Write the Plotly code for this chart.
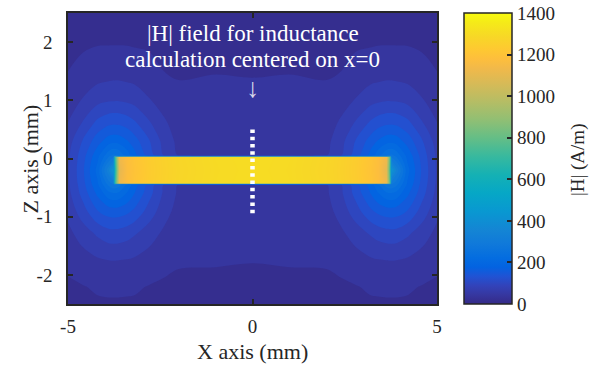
import plotly.graph_objects as go

# ---- data ----
x_mm = [-5, -4.6, -4.2, -3.9, -3.78, -3.74, -3.62, -3.4, -3.2, -2.8, -2.4, -2.0, -1.0, 0,
        1.0, 2.0, 2.4, 2.8, 3.2, 3.4, 3.62, 3.74, 3.78, 3.9, 4.2, 4.6, 5]
z_mm = [-2.5, -2.2, -1.8, -1.3, -0.9, -0.6, -0.45, -0.43, -0.2, 0.03, 0.05,
        0.3, 0.6, 1.0, 1.5, 2.0, 2.5]
H_field = [
    [21, 23, 25, 25, 25, 25, 25, 25, 25, 23, 21, 20, 20, 20, 20, 20, 21, 23, 25, 25, 25, 25, 25, 25, 25, 23, 21],
    [25, 27, 31, 33, 33, 33, 33, 32, 31, 27, 25, 22, 23, 23, 23, 22, 25, 27, 31, 32, 33, 33, 33, 33, 31, 27, 25],
    [32, 41, 48, 51, 52, 52, 51, 50, 48, 41, 33, 30, 29, 28, 29, 30, 33, 41, 48, 50, 51, 52, 52, 51, 48, 41, 32],
    [48, 68, 88, 99, 100, 100, 99, 94, 86, 68, 50, 38, 37, 36, 37, 38, 50, 68, 86, 94, 99, 100, 100, 99, 88, 68, 48],
    [64, 100, 139, 154, 156, 156, 155, 147, 135, 100, 68, 45, 42, 42, 42, 45, 68, 100, 135, 147, 155, 156, 156, 154, 139, 100, 64],
    [75, 122, 174, 214, 221, 221, 217, 194, 168, 122, 79, 51, 44, 44, 44, 51, 79, 122, 168, 194, 217, 221, 221, 214, 174, 122, 75],
    [78, 129, 191, 259, 276, 276, 266, 221, 183, 130, 82, 52, 45, 45, 45, 52, 82, 130, 183, 221, 266, 276, 276, 259, 191, 129, 78],
    [79, 130, 193, 267, 285, 640, 1130, 1180, 1205, 1240, 1262, 1280, 1298, 1305, 1298, 1280, 1262, 1240, 1205, 1180, 1130, 640, 285, 267, 193, 130, 79],
    [80, 134, 205, 331, 440, 580, 1100, 1175, 1200, 1238, 1260, 1278, 1297, 1304, 1297, 1278, 1260, 1238, 1200, 1175, 1100, 580, 440, 331, 205, 134, 80],
    [78, 129, 189, 251, 267, 640, 1130, 1180, 1205, 1240, 1262, 1280, 1298, 1305, 1298, 1280, 1262, 1240, 1205, 1180, 1130, 640, 267, 251, 189, 129, 78],
    [78, 128, 187, 244, 258, 258, 249, 214, 179, 128, 82, 52, 45, 45, 45, 52, 82, 128, 179, 214, 249, 258, 258, 244, 187, 128, 78],
    [71, 114, 156, 182, 186, 186, 184, 170, 152, 114, 74, 48, 44, 44, 44, 48, 74, 114, 152, 170, 184, 186, 186, 182, 156, 114, 71],
    [57, 87, 121, 135, 137, 137, 136, 129, 118, 88, 61, 42, 42, 42, 42, 42, 61, 88, 118, 129, 136, 137, 137, 135, 121, 87, 57],
    [43, 58, 75, 81, 82, 82, 82, 79, 74, 58, 44, 35, 36, 35, 36, 35, 44, 58, 74, 79, 82, 82, 82, 81, 75, 58, 43],
    [28, 35, 41, 43, 44, 44, 44, 42, 41, 36, 28, 25, 27, 26, 27, 25, 28, 36, 41, 42, 44, 44, 44, 43, 41, 35, 28],
    [22, 24, 26, 26, 26, 26, 26, 26, 25, 24, 22, 20, 20, 20, 20, 20, 22, 24, 25, 26, 26, 26, 26, 26, 26, 24, 22],
    [18, 19, 20, 20, 20, 20, 20, 20, 20, 19, 18, 17, 17, 17, 17, 17, 18, 19, 20, 20, 20, 20, 20, 20, 20, 19, 18],
]
probe_x = [0, 0]
probe_z = [0.5, -1.0]
x_ticks = [-5, 0, 5]
x_tick_text = ["-5", "0", "5"]
z_ticks = [-2, -1, 0, 1, 2]
z_tick_text = ["-2", "-1", "0", "1", "2"]
cbar_ticks = [0, 200, 400, 600, 800, 1000, 1200, 1400]
title_lines = ["|H| field for inductance", "calculation centered on x=0"]

# drawing split: banded (contourf-like) surroundings + smoothly shaded strip
STRIP_MIN = 500
BAND_CAP = 420
field_bands = [[min(v, BAND_CAP) for v in row] for row in H_field]
field_strip = [[v if v >= STRIP_MIN else None for v in row] for row in H_field]

# ---- parula colormap ----
parula_rgb = [
    (0, (0.2081, 0.1663, 0.5292)), (2, (0.2123, 0.2138, 0.6270)), (4, (0.1959, 0.2645, 0.7279)),
    (6, (0.1253, 0.3242, 0.8303)), (8, (0.0117, 0.3875, 0.8820)), (10, (0.0165, 0.4266, 0.8786)),
    (13, (0.0629, 0.4737, 0.8554)), (16, (0.0793, 0.5200, 0.8312)), (20, (0.0343, 0.5966, 0.8199)),
    (24, (0.0228, 0.6535, 0.7768)), (28, (0.0843, 0.6928, 0.7062)), (32, (0.2178, 0.7250, 0.6193)),
    (36, (0.3953, 0.7459, 0.5244)), (40, (0.5709, 0.7485, 0.4494)), (44, (0.7184, 0.7411, 0.3905)),
    (48, (0.8507, 0.7299, 0.3360)), (51, (0.9450, 0.7261, 0.2886)), (53, (0.9938, 0.7455, 0.2403)),
    (55, (0.9955, 0.7861, 0.1967)), (58, (0.9697, 0.8481, 0.1475)), (61, (0.9598, 0.9218, 0.0948)),
    (63, (0.9763, 0.9831, 0.0538)),
]
parula = [[i / 63, "rgb(%d,%d,%d)" % tuple(round(c * 255) for c in rgb)] for i, rgb in parula_rgb]

FONT = "Liberation Serif"
AXC = "#262626"
ZMAX = 1400

fig = go.Figure()
# full field (continuous colour bar)
fig.add_trace(go.Heatmap(
    x=x_mm, y=z_mm, z=H_field, zsmooth="best", colorscale=parula, zmin=0, zmax=ZMAX,
    colorbar=dict(
        x=1.073, xanchor="left", y=0.5, yanchor="middle", len=1, lenmode="fraction",
        thickness=48, thicknessmode="pixels", outlinewidth=1.5, outlinecolor=AXC,
        tickvals=cbar_ticks, ticks="inside", ticklen=5, tickcolor=AXC, tickwidth=1.5,
        tickfont=dict(family=FONT, size=19, color=AXC),
        xpad=0, ypad=0,
    ),
    hoverinfo="skip",
))
# banded weak field around the strip
fig.add_trace(go.Contour(
    x=x_mm, y=z_mm, z=field_bands, colorscale=parula, zmin=0, zmax=ZMAX, showscale=False,
    autocontour=False, contours=dict(start=0, end=ZMAX, size=28, coloring="fill", showlines=False),
    line=dict(width=0, smoothing=1.0), hoverinfo="skip",
))
# smooth strip on top
fig.add_trace(go.Contour(
    x=x_mm, y=z_mm, z=field_strip, colorscale=parula, zmin=0, zmax=ZMAX, showscale=False,
    connectgaps=False,
    autocontour=False, contours=dict(start=0, end=ZMAX, size=ZMAX, coloring="heatmap", showlines=False),
    line=dict(width=0), hoverinfo="skip",
))
fig.add_trace(go.Scatter(
    x=probe_x, y=probe_z, mode="lines",
    line=dict(color="white", width=4.5, dash="3.5px,3.8px"),
    showlegend=False, hoverinfo="skip",
))

fig.add_annotation(x=0, y=2.15, xref="x", yref="y", text=title_lines[0],
                   showarrow=False, font=dict(family=FONT, size=23, color="white"),
                   xanchor="center", yanchor="middle")
fig.add_annotation(x=0, y=1.70, xref="x", yref="y", text=title_lines[1],
                   showarrow=False, font=dict(family=FONT, size=23, color="white"),
                   xanchor="center", yanchor="middle")
fig.add_annotation(x=0, y=1.22, xref="x", yref="y", text="↓",
                   showarrow=False, font=dict(family=FONT, size=27, color="#d8d8ea"),
                   xanchor="center", yanchor="middle")

fig.add_annotation(x=0.5, y=-0.164, xref="paper", yref="paper", text="X axis (mm)",
                   showarrow=False, font=dict(family=FONT, size=22, color=AXC),
                   xanchor="center", yanchor="middle")
fig.add_annotation(x=-0.1003, y=0.5, xref="paper", yref="paper", text="Z axis (mm)",
                   showarrow=False, textangle=-90, font=dict(family=FONT, size=22, color=AXC),
                   xanchor="center", yanchor="middle")
fig.add_annotation(x=1.382, y=0.498, xref="paper", yref="paper", text="|H| (A/m)",
                   showarrow=False, textangle=-90, font=dict(family=FONT, size=19, color=AXC),
                   xanchor="center", yanchor="middle")

axis_common = dict(
    showline=True, linecolor=AXC, linewidth=1.5, mirror="ticks",
    ticks="inside", ticklen=5, tickwidth=1.5, tickcolor=AXC,
    showgrid=False, zeroline=False,
    tickfont=dict(family=FONT, size=19, color=AXC),
)
fig.update_xaxes(range=[-5, 5], tickvals=x_ticks, ticktext=x_tick_text, ticklabelstandoff=4,
                 **axis_common)
fig.update_yaxes(range=[-2.5, 2.5], tickvals=z_ticks, ticktext=z_tick_text, ticklabelstandoff=10,
                 **axis_common)

fig.update_layout(
    width=603, height=373,
    margin=dict(l=68, r=166, t=11, b=69),
    paper_bgcolor="white", plot_bgcolor="white",
    showlegend=False,
)
fig.write_html("out.html")
